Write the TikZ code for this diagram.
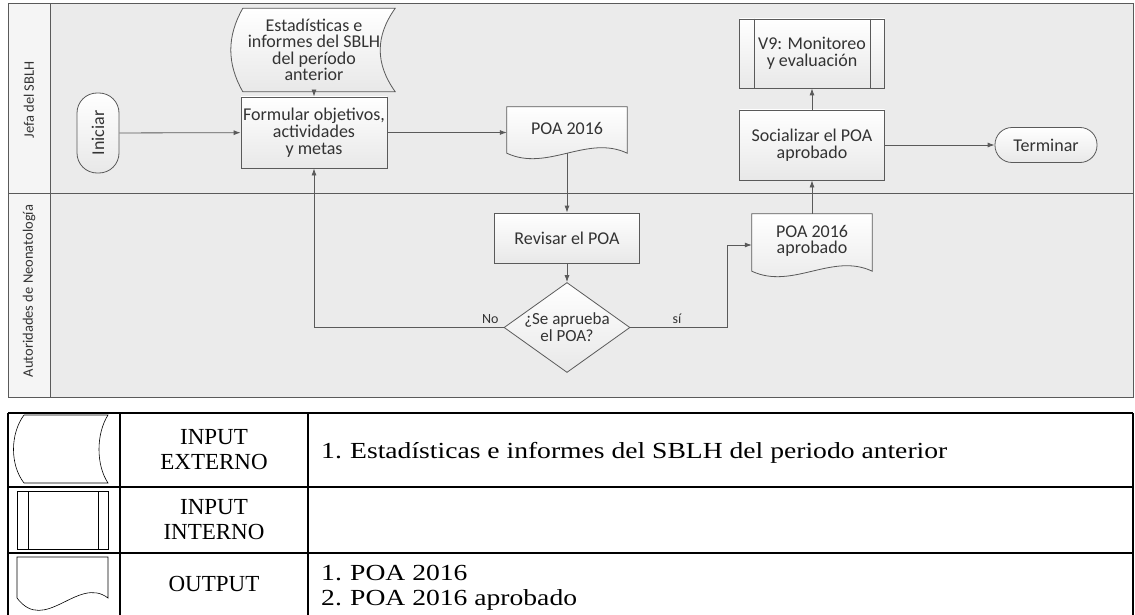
\documentclass[tikz,border=0pt]{standalone}
\usepackage{fontspec}
\setmainfont{Carlito}
\newfontfamily\tabfont{Liberation Serif}
\newfontfamily\listfont{Liberation Serif}[FakeStretch=1.2]
\usetikzlibrary{arrows.meta,positioning,shapes.geometric,calc,backgrounds}
\definecolor{lanefill}{HTML}{EBEBEB}
\definecolor{headfill}{HTML}{F5F5F5}
\definecolor{linegray}{HTML}{5A5A5A}
\definecolor{txtgray}{HTML}{333333}

% document outline with wavy bottom around a node
\newcommand{\docwave}[1]{%
  \draw[shp] (#1.north west) -- (#1.north east) -- ($(#1.south east)+(0,3)$)
    .. controls ($(#1.south east)+(-40,-16)$) and ($(#1.south east)+(-80,22)$)
    .. ($(#1.south west)+(0,3)$) -- cycle;}

\begin{document}
\begin{tikzpicture}[x=1pt,y=-1pt,
  shp/.style={draw=linegray, line width=0.8pt, top color=white, bottom color=black!9},
  proc/.style={shp, rectangle, align=center, text=txtgray, inner sep=2pt,
    font=\fontsize{18}{17}\selectfont},
  pill/.style={proc, rounded corners=17pt},
  txt/.style={align=center, text=txtgray, font=\fontsize{18}{16.5}\selectfont},
  lanelbl/.style={rotate=90, text=txtgray, font=\fontsize{14.5}{16}\selectfont},
  elbl/.style={text=txtgray, font=\fontsize{14}{16}\selectfont},
  arr/.style={draw=linegray, line width=0.8pt, -{Latex[length=7pt,width=5pt]}},
  tabline/.style={line width=1.5pt},
  tabtxt/.style={align=center, font=\tabfont\fontsize{23}{25}\selectfont},
  listtxt/.style={anchor=base west, inner sep=0pt, font=\listfont\fontsize{23}{25}\selectfont},
  cellshp/.style={line width=0.6pt}]
  \useasboundingbox (0,0) rectangle (1135,615);

  % Swimlanes
  \begin{scope}[on background layer]
    \draw[linegray, line width=1pt, fill=lanefill] (8,4) rectangle (1133,397);
    \fill[headfill] (8,4) rectangle (50,397);
    \draw[linegray, line width=1pt] (8,4) rectangle (1133,397);
    \draw[linegray, line width=1pt] (50,4) -- (50,397);
    \draw[linegray, line width=1pt] (8,193) -- (1133,193);
  \end{scope}
  \node[lanelbl] (lane1) at (29,100) {Jefa del SBLH};
  \node[lanelbl] (lane2) at (29,291) {Autoridades de Neonatología};

  % Steps
  \node[pill, rotate=90, minimum width=80pt, minimum height=42pt, rounded corners=20pt] (ini) at (98,133) {Iniciar};
  \node[txt, minimum width=166pt, minimum height=83pt] (stats) at (314,50)
    {Estadísticas e\\informes del SBLH\\del período\\anterior};
  \node[proc, minimum width=146pt, minimum height=71pt] (form) at (314,132.5)
    {Formular objetivos,\\actividades\\y metas};
  \node[txt, minimum width=120pt, minimum height=43pt] (poa) at (567,128.5) {POA 2016};
  \node[proc, minimum width=145pt, minimum height=50pt] (rev) at (567,238) {Revisar el POA};
  \node[shp, diamond, aspect=1.4, inner sep=0pt, minimum width=122pt, minimum height=87pt,
    txt, font=\fontsize{17}{17}\selectfont] (dec) at (567,327.5) {¿Se aprueba\\el POA?};
  \node[txt, minimum width=120pt, minimum height=54pt] (apro) at (812,241) {POA 2016\\aprobado};
  \node[proc, minimum width=145pt, minimum height=70pt] (soc) at (812,145)
    {Socializar el POA\\aprobado};
  \node[proc, minimum width=145pt, minimum height=69pt] (v9) at (812,53.5)
    {V9: Monitoreo\\y evaluación};
  \draw[linegray, line width=0.8pt] ([xshift=15pt]v9.north west) -- ([xshift=15pt]v9.south west);
  \draw[linegray, line width=0.8pt] ([xshift=-15pt]v9.north east) -- ([xshift=-15pt]v9.south east);
  \node[pill, minimum width=102pt, minimum height=35pt] (term) at (1046,145) {Terminar};

  % Shapes behind text
  \begin{scope}[on background layer]
    \draw[shp] ([xshift=12pt]stats.north west) -- ([xshift=-2pt]stats.north east)
      .. controls ($(stats.north east)+(-22,28)$) and ($(stats.south east)+(-22,-28)$)
      .. ([xshift=-2pt]stats.south east) -- ([xshift=12pt]stats.south west)
      .. controls ($(stats.south west)+(-4,-28)$) and ($(stats.north west)+(-4,28)$)
      .. cycle;
    \docwave{poa}
    \docwave{apro}
  \end{scope}

  % Connectors
  \draw[arr] (ini) -- (form);
  \draw[arr] (stats) -- (form);
  \draw[arr] (form) -- (form -| poa.west);
  \draw[arr] ($(poa.south)+(0,3)$) -- (rev);
  \draw[arr] (rev) -- (dec);
  \draw[arr] (dec.west) -- node[elbl, pos=0.07, above] {No} (dec.west -| form.south) -- (form.south);
  \draw[arr] (dec.east) -- node[elbl, pos=0.48, above] {sí} ++(97,0) |- ($(apro.west)+(0,4)$);
  \draw[arr] (apro.north) -- (soc.south);
  \draw[arr] (soc) -- (v9);
  \draw[arr] (soc) -- (term);

  % Legend table
  \foreach \y in {413,487,553} \draw[tabline] (8,\y) -- (1133,\y);
  \foreach \x in {8,120,308,1133} \draw[tabline] (\x,413) -- (\x,620);
  \draw[cellshp] (24,415) -- (108,415) .. controls (96,434) and (96,465) .. (108,483)
    -- (24,483) .. controls (10,465) and (10,434) .. (24,415);
  \draw[cellshp] (17,491) rectangle (108,549);
  \draw[cellshp] (28,491) -- (28,549);
  \draw[cellshp] (98,491) -- (98,549);
  \draw[cellshp] (17,557) -- (108,557) -- (108,598) .. controls (78,575) and (45,635) .. (17,598) -- cycle;
  \node[tabtxt] (tin1) at (214,450) {INPUT\\EXTERNO};
  \node[tabtxt] (tin2) at (214,520) {INPUT\\INTERNO};
  \node[tabtxt] (tout) at (214,584) {OUTPUT};
  \node[listtxt] (n1) at (321,458) {1.};
  \node[listtxt] (e1) at (350,458) {Estadísticas e informes del SBLH del periodo anterior};
  \node[listtxt] (n2) at (321,580) {1.};
  \node[listtxt] (o1) at (350,580) {POA 2016};
  \node[listtxt] (n3) at (321,605) {2.};
  \node[listtxt] (o2) at (350,605) {POA 2016 aprobado};
\end{tikzpicture}
\end{document}
